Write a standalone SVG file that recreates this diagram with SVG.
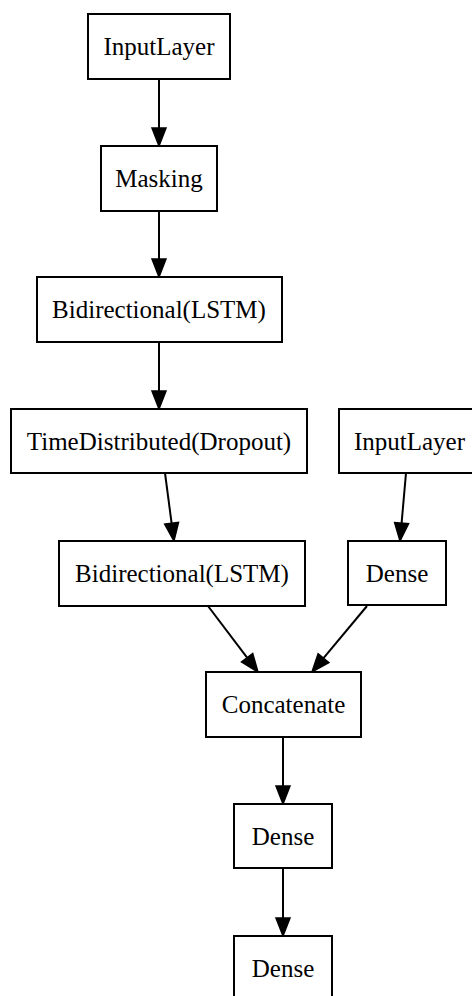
<svg xmlns="http://www.w3.org/2000/svg" width="472" height="996" viewBox="0 0 472 996">
  <style>
    .node rect { fill: #ffffff; stroke: #000000; stroke-width: 2; }
    .node text { font-family: "Liberation Serif", "Times New Roman", serif; font-size: 25px; fill: #000000; text-anchor: middle; }
    .edge { stroke: #000000; stroke-width: 2; fill: none; marker-end: url(#arrow); }
  </style>
  <defs>
    <marker id="arrow" markerUnits="userSpaceOnUse" markerWidth="20" markerHeight="16" refX="0" refY="7" orient="auto" overflow="visible">
      <path d="M0,0 L18,7 L0,14 Z" fill="#000000" stroke="#000000" stroke-width="1.5"/>
    </marker>
  </defs>
  <rect width="472" height="996" fill="#ffffff"/>

  <g id="edges">
    <line class="edge" x1="159" y1="79" x2="159" y2="128"/>
    <line class="edge" x1="159" y1="211" x2="159" y2="259"/>
    <line class="edge" x1="159" y1="342" x2="159" y2="391"/>
    <line class="edge" x1="165" y1="473" x2="171.6" y2="523.2"/>
    <line class="edge" x1="406" y1="473" x2="401.6" y2="523.1"/>
    <line class="edge" x1="208" y1="606" x2="247.1" y2="657.7"/>
    <line class="edge" x1="367" y1="606" x2="323.5" y2="658.2"/>
    <line class="edge" x1="283" y1="737" x2="283" y2="786"/>
    <line class="edge" x1="283" y1="868" x2="283" y2="918"/>
  </g>

  <g id="input_layer_1" class="node">
    <rect x="88" y="14" width="142" height="65"/>
    <text x="159" y="55">InputLayer</text>
  </g>
  <g id="masking" class="node">
    <rect x="101" y="146" width="116" height="65"/>
    <text x="159" y="187">Masking</text>
  </g>
  <g id="bidirectional_lstm_1" class="node">
    <rect x="37" y="277" width="245" height="65"/>
    <text x="159" y="318">Bidirectional(LSTM)</text>
  </g>
  <g id="time_distributed_dropout" class="node">
    <rect x="11" y="409" width="296" height="64"/>
    <text x="159" y="450">TimeDistributed(Dropout)</text>
  </g>
  <g id="input_layer_2" class="node">
    <rect x="339" y="409" width="141" height="64"/>
    <text x="409.5" y="450">InputLayer</text>
  </g>
  <g id="bidirectional_lstm_2" class="node">
    <rect x="59" y="541" width="246" height="65"/>
    <text x="182" y="582">Bidirectional(LSTM)</text>
  </g>
  <g id="dense_1" class="node">
    <rect x="348" y="541" width="98" height="64"/>
    <text x="397" y="582">Dense</text>
  </g>
  <g id="concatenate" class="node">
    <rect x="206" y="672" width="155" height="65"/>
    <text x="283.5" y="713">Concatenate</text>
  </g>
  <g id="dense_2" class="node">
    <rect x="234" y="804" width="98" height="64"/>
    <text x="283" y="845">Dense</text>
  </g>
  <g id="dense_3" class="node">
    <rect x="234" y="936" width="98" height="64"/>
    <text x="283" y="977">Dense</text>
  </g>
</svg>
